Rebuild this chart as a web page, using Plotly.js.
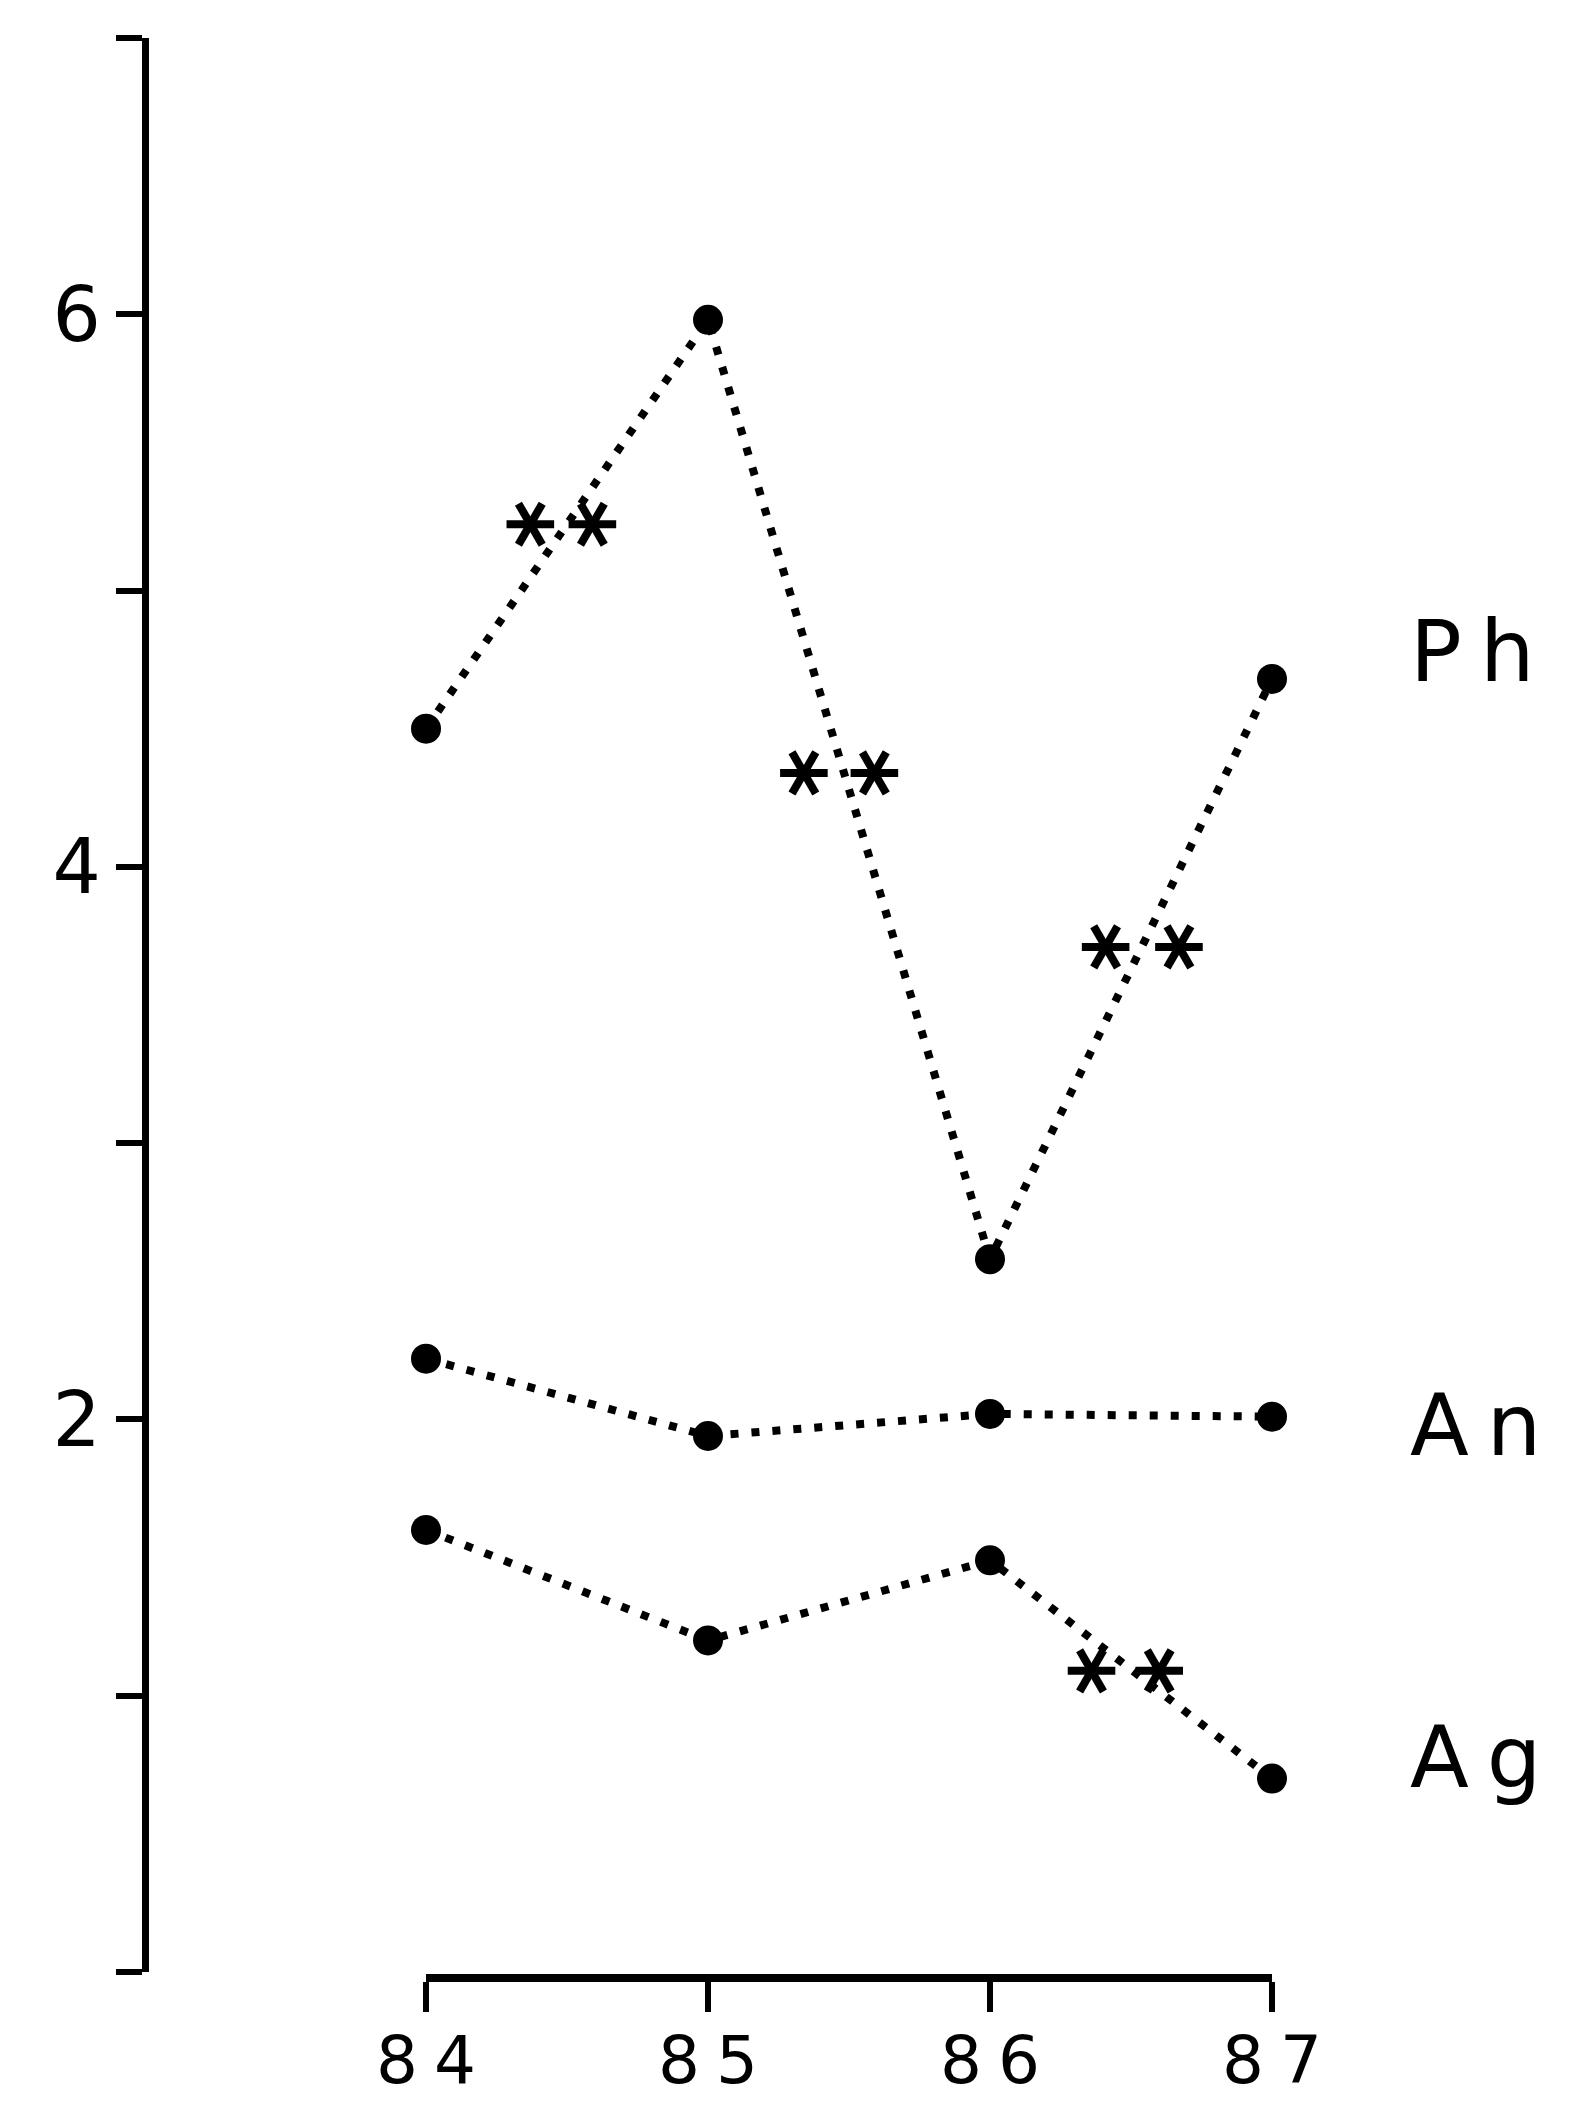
<!DOCTYPE html>
<html>
<head>
<meta charset="utf-8">
<script src="https://cdn.plot.ly/plotly-3.0.1.min.js"></script>
<style>html,body{margin:0;padding:0;background:#fff;}#chart{width:1573px;height:2105px;}</style>
</head>
<body>
<div id="chart"></div>
<script>
// ---- data ----
const years = [84, 85, 86, 87];
const yearLabels = ["84", "85", "86", "87"];
const seriesNames = ["Ph", "An", "Ag"];
const phValues = [4.50, 5.98, 2.58, 4.68];
const anValues = [2.22, 1.94, 2.02, 2.01];
const agValues = [1.60, 1.20, 1.49, 0.70];
// end-of-line label heights (data units)
const labelY = [4.78, 1.98, 0.78];
// significance asterisks ("**") drawn along the lines
const sigX = [84.37, 84.59, 85.34, 85.59, 86.41, 86.67, 86.36, 86.60];
const sigY = [5.24, 5.24, 4.34, 4.34, 3.71, 3.71, 1.09, 1.09];
// y axis ticks
const yTickVals = [0, 1, 2, 3, 4, 5, 6, 7];
const yTickText = ["", "", "2", "", "4", "", "6", ""];

(function () {
const seriesValues = [phValues, anValues, agValues];
const FONT = "DejaVu Sans, Liberation Sans, sans-serif";
// widen the gap after the first character (plotter-style lettering), keeps centring
const spaced = (t, px) => "<span style='letter-spacing:" + px + "px'>" + t.slice(0, 1) + "</span>" + t.slice(1);

const traces = seriesValues.map((vals, i) => ({
  type: "scatter",
  mode: "lines+markers",
  name: seriesNames[i],
  x: years,
  y: vals,
  line: {color: "#000", width: 8, dash: "8px,13px"},
  marker: {color: "#000", size: 30, symbol: "circle", line: {width: 0}},
  cliponaxis: false,
  showlegend: false,
  hoverinfo: "x+y+name"
}));

// asterisks: three strokes each (horizontal and two diagonals)
[0, 60, 120].forEach(a => {
  traces.push({
    type: "scatter",
    mode: "markers",
    x: sigX,
    y: sigY,
    marker: {symbol: "line-ew-open", size: 34, angle: a, color: "#000", line: {color: "#000", width: 8}},
    cliponaxis: false,
    showlegend: false,
    hoverinfo: "skip"
  });
});

const W = 1573, H = 2105;
const pLeft = 145, pRight = 1272, pTop = 38, pBottom = 1978;
const x84px = 426, y0px = 1972;

const layout = {
  width: W, height: H,
  paper_bgcolor: "#fff",
  plot_bgcolor: "#fff",
  margin: {l: pLeft, r: W - pRight, t: pTop, b: H - pBottom, pad: 0},
  showlegend: false,
  font: {family: FONT, color: "#000"},
  xaxis: {
    range: [years[0], years[years.length - 1]],
    domain: [(x84px - pLeft) / (pRight - pLeft), 1],
    anchor: "free",
    position: 0,
    tickmode: "array",
    tickvals: years,
    ticktext: yearLabels.map(t => spaced(t, 16)),
    ticks: "outside",
    ticklen: 30,
    tickwidth: 6,
    tickcolor: "#000",
    showline: true,
    linewidth: 8,
    linecolor: "#000",
    showgrid: false,
    zeroline: false,
    tickfont: {family: FONT, size: 66, color: "#000"},
    ticklabelstandoff: -8
  },
  yaxis: {
    range: [0, 7],
    domain: [(pBottom - y0px) / (pBottom - pTop), 1],
    anchor: "free",
    position: 0,
    tickmode: "array",
    tickvals: yTickVals,
    ticktext: yTickText,
    ticks: "outside",
    ticklen: 26,
    tickwidth: 6,
    tickcolor: "#000",
    showline: true,
    linewidth: 7,
    linecolor: "#000",
    showgrid: false,
    zeroline: false,
    tickfont: {family: FONT, size: 76, color: "#000"},
    ticklabelstandoff: 0
  },
  annotations: seriesNames.map((name, i) => ({
    xref: "x", yref: "y",
    x: years[years.length - 1],
    y: labelY[i],
    xanchor: "left",
    yanchor: "middle",
    xshift: 136,
    showarrow: false,
    text: spaced(name, 18),
    font: {family: FONT, size: 86, color: "#000"}
  }))
};

Plotly.newPlot("chart", traces, layout, {staticPlot: true, displayModeBar: false});
})();
</script>
</body>
</html>
